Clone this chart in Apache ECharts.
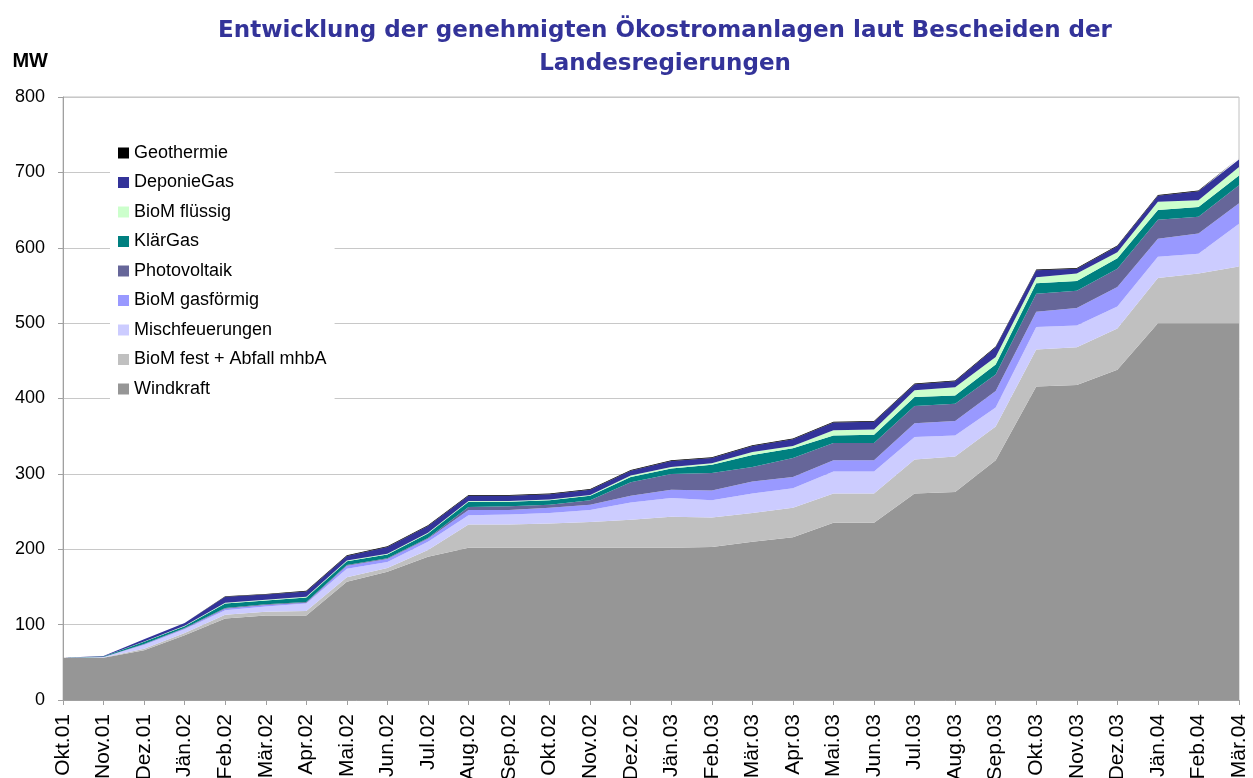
<!DOCTYPE html>
<html>
<head>
<meta charset="utf-8">
<script src="https://cdn.jsdelivr.net/npm/echarts/dist/echarts.min.js"></script>
<style>
  html, body { margin: 0; padding: 0; background: #fff; }
  #main { width: 1253px; height: 778px; }
</style>
</head>
<body>
<div id="main"></div>
<script>
// Monate (x-Achse)
var months = ['Okt.01', 'Nov.01', 'Dez.01', 'Jän.02', 'Feb.02', 'Mär.02', 'Apr.02', 'Mai.02', 'Jun.02', 'Jul.02',
  'Aug.02', 'Sep.02', 'Okt.02', 'Nov.02', 'Dez.02', 'Jän.03', 'Feb.03', 'Mär.03', 'Apr.03', 'Mai.03',
  'Jun.03', 'Jul.03', 'Aug.03', 'Sep.03', 'Okt.03', 'Nov.03', 'Dez.03', 'Jän.04', 'Feb.04', 'Mär.04'];

// MW je Anlagentyp, von unten nach oben gestapelt
var windkraft = [56, 56, 66, 86, 108, 112, 112, 157, 170, 190, 202, 202, 202, 202, 202, 202, 203, 210, 216, 235, 235, 274, 276, 318, 416, 418, 438, 500, 500, 500];
var biomFest = [0, 0.5, 2, 3, 5, 5, 6, 6, 5, 9, 31, 31, 32, 34, 37, 41, 39, 38, 39, 39, 39, 45, 47, 45, 49, 50, 55, 60, 66, 75];
var mischfeuerungen = [0, 0.5, 5, 5, 6, 7, 10, 11, 8, 11, 12, 13, 14, 16, 23, 25, 23, 26, 26, 29, 29, 30, 28, 25, 30, 29, 29, 28, 26, 57];
var biomGas = [0, 0.2, 1, 1, 2, 2, 1, 4, 4, 4, 7, 6, 7, 7, 9, 11, 13, 16, 15, 15, 15, 18, 19, 22, 20, 23, 26, 24, 27, 27];
var photovoltaik = [0, 0, 0.3, 0.5, 1, 1, 1, 1, 1, 1, 4, 5, 4, 6, 18, 21, 23, 19, 25, 23, 23, 23, 23, 22, 24, 23, 24, 25, 22, 24];
var klaerGas = [0, 0.5, 3, 2.5, 6, 5, 6, 5, 5, 6, 7, 6, 6, 6, 7, 7, 11, 16, 13, 10, 11, 12, 11, 13, 14, 13, 14, 13, 13, 13];
var biomFluessig = [0, 0.1, 0.3, 0.5, 1, 1, 1, 1, 1, 1, 1, 1, 1, 1, 2, 2, 2, 4, 3, 7, 7, 9, 11, 10, 8, 10, 8, 11, 9, 11];
var deponieGas = [0, 0.5, 3, 3.5, 8, 7, 7, 6, 9, 9, 7, 7, 7, 7, 6, 8, 7, 8, 9, 10, 10, 8, 8, 13, 9, 6, 8, 8, 12, 10];
var geothermie = [0, 0, 0, 0, 0.5, 0.5, 1, 1, 1, 1, 1, 1, 1, 1, 1, 1, 1, 1, 1, 1, 1, 1, 1, 1, 1, 1, 1, 1, 1, 2];

var yTicks = [0, 100, 200, 300, 400, 500, 600, 700, 800];

var seriesDefs = [
  { name: 'Windkraft', data: windkraft, color: '#969696' },
  { name: 'BioM fest + Abfall mhbA', data: biomFest, color: '#c0c0c0' },
  { name: 'Mischfeuerungen', data: mischfeuerungen, color: '#ccccff' },
  { name: 'BioM gasförmig', data: biomGas, color: '#9999ff' },
  { name: 'Photovoltaik', data: photovoltaik, color: '#666699' },
  { name: 'KlärGas', data: klaerGas, color: '#008080' },
  { name: 'BioM flüssig', data: biomFluessig, color: '#ccffcc' },
  { name: 'DeponieGas', data: deponieGas, color: '#333399' },
  { name: 'Geothermie', data: geothermie, color: '#000000' }
];

var font = 'Arial, "Liberation Sans", sans-serif';

var chartDom = document.getElementById('main');
var myChart = echarts.init(chartDom);

var option = {
  animation: false,
  backgroundColor: '#fff',
  title: {
    text: 'Entwicklung der genehmigten Ökostromanlagen laut Bescheiden der\nLandesregierungen',
    left: 660,
    top: 10,
    textAlign: 'center',
    textStyle: {
      fontFamily: '"DejaVu Sans", sans-serif',
      fontSize: 23,
      fontWeight: 'bold',
      color: '#333399',
      lineHeight: 33
    }
  },
  legend: {
    orient: 'vertical',
    left: 110,
    top: 139,
    padding: [5, 8],
    backgroundColor: '#fff',
    itemWidth: 11,
    itemHeight: 11,
    itemGap: 11.5,
    icon: 'rect',
    data: seriesDefs.map(function (s) { return s.name; }).reverse(),
    textStyle: { fontFamily: font, fontSize: 18, color: '#000', lineHeight: 18 }
  },
  grid: {
    left: 63,
    right: 14,
    top: 97,
    bottom: 78,
    outerBoundsMode: 'none',
    show: true,
    borderColor: '#c0c0c0',
    borderWidth: 1
  },
  xAxis: {
    type: 'category',
    data: months,
    boundaryGap: false,
    axisLine: { lineStyle: { color: '#a0a0a0' } },
    axisTick: { alignWithLabel: true, length: 5, lineStyle: { color: '#a0a0a0' } },
    axisLabel: {
      rotate: 90,
      interval: 0,
      margin: 14,
      fontFamily: font,
      fontSize: 21,
      color: '#000'
    }
  },
  yAxis: {
    type: 'value',
    min: yTicks[0],
    max: yTicks[yTicks.length - 1],
    interval: 100,
    name: 'MW',
    nameLocation: 'end',
    nameGap: 26,
    nameTextStyle: {
      fontFamily: font,
      fontSize: 20,
      fontWeight: 'bold',
      color: '#000',
      align: 'right',
      padding: [0, 15, 0, 0]
    },
    axisLine: { show: true, lineStyle: { color: '#a0a0a0' } },
    axisTick: { show: true, length: 5, lineStyle: { color: '#a0a0a0' } },
    axisLabel: { margin: 18, fontFamily: font, fontSize: 18, color: '#000' },
    splitLine: { lineStyle: { color: '#c8c8c8' } }
  },
  series: seriesDefs.map(function (s) {
    return {
      name: s.name,
      type: 'line',
      stack: 'total',
      data: s.data,
      symbol: 'none',
      color: s.color,
      lineStyle: { width: 0 },
      areaStyle: { color: s.color, opacity: 1 }
    };
  })
};

option && myChart.setOption(option);
</script>
</body>
</html>
